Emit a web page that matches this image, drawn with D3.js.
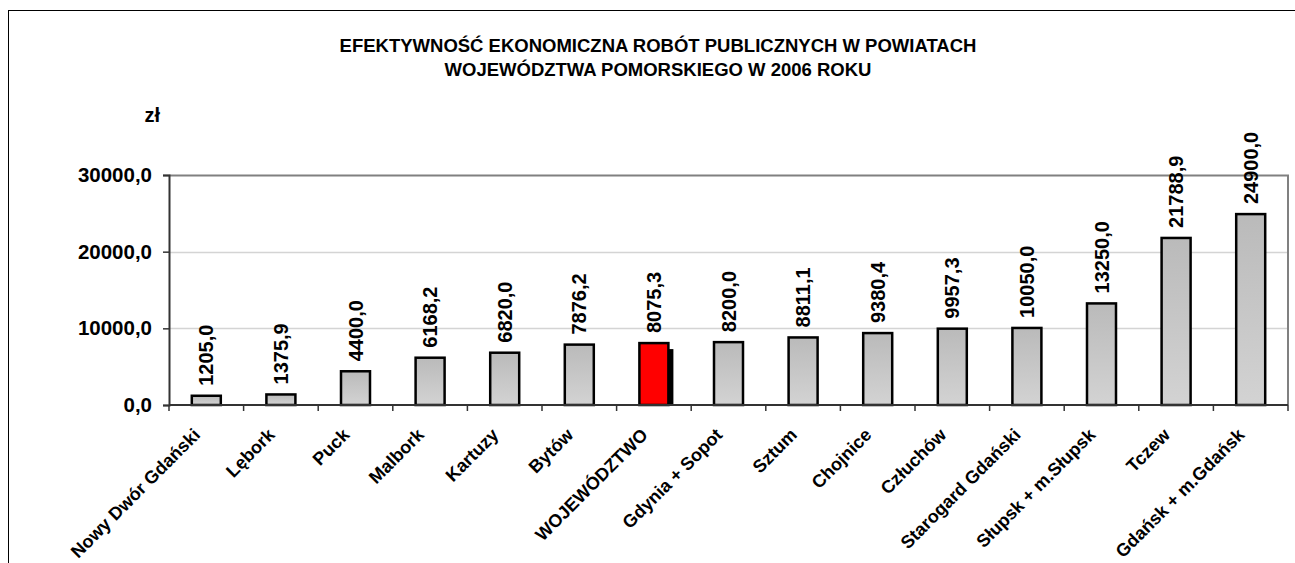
<!DOCTYPE html>
<html>
<head>
<meta charset="utf-8">
<script src="https://cdn.jsdelivr.net/npm/d3@7"></script>
<style>
  body { margin: 0; background: #fff; }
  text { font-family: "Liberation Sans", Arial, sans-serif; font-weight: bold; }
</style>
</head>
<body>
<svg id="chart" width="1295" height="563"></svg>
<script>
const titleLines = [
  "EFEKTYWNOŚĆ EKONOMICZNA ROBÓT PUBLICZNYCH W POWIATACH",
  "WOJEWÓDZTWA POMORSKIEGO W 2006 ROKU"
];
const unitLabel = "zł";

const categories = [
  "Nowy Dwór Gdański", "Lębork", "Puck", "Malbork", "Kartuzy", "Bytów",
  "WOJEWÓDZTWO", "Gdynia + Sopot", "Sztum", "Chojnice", "Człuchów",
  "Starogard Gdański", "Słupsk + m.Słupsk", "Tczew", "Gdańsk + m.Gdańsk"
];
const values = [
  1205.0, 1375.9, 4400.0, 6168.2, 6820.0, 7876.2, 8075.3, 8200.0,
  8811.1, 9380.4, 9957.3, 10050.0, 13250.0, 21788.9, 24900.0
];
const highlighted = "WOJEWÓDZTWO";
const yTicks = [0, 10000, 20000, 30000];

const fmt = (v) => d3.format(".1f")(v).replace(".", ",");

const svg = d3.select("#chart");

const margin = {top: 175, left: 169, bottom: 158, right: 7};
const width = 1295, height = 563;

const rows = categories.map((c, i) => ({c, v: values[i]}));

// outer frame
svg.append("rect")
  .attr("x", 8.5).attr("y", 10.5)
  .attr("width", 1300).attr("height", 600)
  .attr("fill", "none").attr("stroke", "#000").attr("stroke-width", 1);

const defs = svg.append("defs");
const grad = defs.append("linearGradient")
  .attr("id", "barGrad").attr("x1", 0).attr("y1", 0).attr("x2", 0).attr("y2", 1);
grad.append("stop").attr("offset", "0%").attr("stop-color", "#bababa");
grad.append("stop").attr("offset", "100%").attr("stop-color", "#d3d3d3");

const x = d3.scaleBand()
  .domain(categories)
  .range([margin.left, width - margin.right]);
const barW = 29;
const barX = (c) => x(c) + x.bandwidth() / 2 - barW / 2;
const mid = (c) => x(c) + x.bandwidth() / 2;

const y = d3.scaleLinear()
  .domain([0, 30000])
  .range([height - margin.bottom, margin.top]);

// gridlines
svg.append("g")
  .selectAll("line")
  .data(yTicks.filter(d => d > 0 && d < 30000))
  .enter().append("line")
  .attr("x1", margin.left).attr("x2", width - margin.right)
  .attr("y1", d => Math.round(y(d)) + 0.5).attr("y2", d => Math.round(y(d)) + 0.5)
  .attr("stroke", "#d4d4d4").attr("stroke-width", 1.5);

// plot frame (top, right)
svg.append("path")
  .attr("d", `M${margin.left},${y(30000) + 0.5}H${width - margin.right}V${y(0)}`)
  .attr("fill", "none").attr("stroke", "#808080").attr("stroke-width", 2);

// shadow for highlighted bar
svg.append("g")
  .selectAll("rect")
  .data(rows.filter(d => d.c === highlighted))
  .enter().append("rect")
  .attr("x", d => barX(d.c) + 5)
  .attr("y", d => y(d.v) + 6)
  .attr("width", barW)
  .attr("height", d => y(0) - y(d.v) - 6)
  .attr("fill", "#000");

// bars
svg.append("g")
  .selectAll("rect")
  .data(rows)
  .enter().append("rect")
  .attr("x", d => barX(d.c))
  .attr("y", d => y(d.v))
  .attr("width", barW)
  .attr("height", d => y(0) - y(d.v))
  .attr("fill", d => d.c === highlighted ? "#ff0000" : "url(#barGrad)")
  .attr("stroke", "#000").attr("stroke-width", 2.5);

// value labels
svg.append("g")
  .selectAll("text")
  .data(rows)
  .enter().append("text")
  .attr("transform", d => `translate(${mid(d.c) + 7},${y(d.v) - 10}) rotate(-90)`)
  .attr("font-size", 20)
  .attr("fill", "#000")
  .text(d => fmt(d.v));

// y axis
const yAxis = d3.axisLeft(y).tickValues(yTicks).tickSize(6).tickPadding(11).tickFormat(fmt);
const yG = svg.append("g")
  .attr("transform", `translate(${margin.left},0)`)
  .call(yAxis);
yG.select(".domain").attr("stroke", "#333").attr("stroke-width", 2);
yG.selectAll(".tick line").attr("stroke", "#333").attr("stroke-width", 1.5);
yG.selectAll(".tick text")
  .attr("font-size", 20.5)
  .attr("font-family", "'Liberation Sans', Arial, sans-serif")
  .attr("font-weight", "bold")
  .attr("fill", "#000");

// x axis
const xBoundaries = categories.map(c => x(c)).concat([width - margin.right]);
const xG = svg.append("g");
xG.append("line")
  .attr("x1", margin.left).attr("x2", width - margin.right)
  .attr("y1", y(0)).attr("y2", y(0))
  .attr("stroke", "#333").attr("stroke-width", 2);
xG.selectAll("line.tick")
  .data(xBoundaries)
  .enter().append("line")
  .attr("class", "tick")
  .attr("x1", d => d).attr("x2", d => d)
  .attr("y1", y(0)).attr("y2", y(0) + 6)
  .attr("stroke", "#333").attr("stroke-width", 1.5);

xG.selectAll("text")
  .data(categories)
  .enter().append("text")
  .attr("transform", d => `translate(${mid(d) - 5},${y(0) + 31}) rotate(-45)`)
  .attr("text-anchor", "end")
  .attr("font-size", 18)
  .attr("fill", "#000")
  .text(d => d);

// title
svg.append("g")
  .selectAll("text")
  .data(titleLines)
  .enter().append("text")
  .attr("x", 658)
  .attr("y", (d, i) => 52 + i * 24)
  .attr("text-anchor", "middle")
  .attr("font-size", 18.5)
  .attr("fill", "#000")
  .text(d => d);

svg.append("text")
  .attr("x", 160).attr("y", 122)
  .attr("text-anchor", "end")
  .attr("font-size", 20)
  .attr("fill", "#000")
  .text(unitLabel);
</script>
</body>
</html>
